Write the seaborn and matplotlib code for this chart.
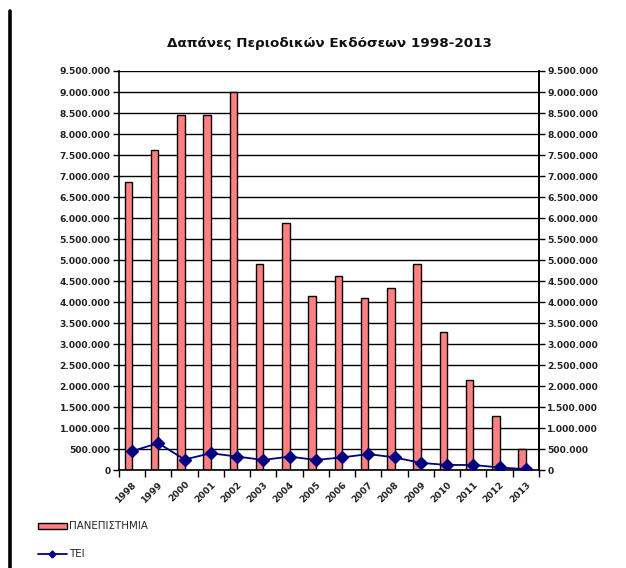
import numpy as np
import pandas as pd
import seaborn as sns
import matplotlib
matplotlib.use("Agg")
import matplotlib.pyplot as plt
from matplotlib.ticker import FuncFormatter, FixedLocator
from matplotlib.lines import Line2D
from matplotlib.patches import Patch

# Journal subscription spending per year (euros)
years = ["1998", "1999", "2000", "2001", "2002", "2003", "2004", "2005",
         "2006", "2007", "2008", "2009", "2010", "2011", "2012", "2013"]
universities = [6860000, 7620000, 8450000, 8450000, 8990000, 4900000,
                5890000, 4140000, 4620000, 4090000, 4330000, 4900000,
                3290000, 2140000, 1290000, 500000]
tei = [450000, 640000, 250000, 400000, 320000, 240000, 320000, 240000,
       300000, 380000, 300000, 170000, 120000, 120000, 60000, 20000]
series_names = ["ΠΑΝΕΠΙΣΤΗΜΙΑ", "ΤΕΙ"]
title = "Δαπάνες Περιοδικών Εκδόσεων 1998-2013"
y_ticks = [0, 500000, 1000000, 1500000, 2000000, 2500000, 3000000,
           3500000, 4000000, 4500000, 5000000, 5500000, 6000000, 6500000,
           7000000, 7500000, 8000000, 8500000, 9000000, 9500000]

bar_color = "#FF8080"
line_color = "#000080"

sns.set_theme(style="white")
plt.rcParams["font.family"] = ["DejaVu Sans"]

fig = plt.figure(figsize=(6.26, 5.68), dpi=100)
ax = fig.add_axes([0.190, 0.1725, 0.671, 0.7025])

bars = pd.DataFrame({"year": years, "value": universities,
                     "series": series_names[0]})
sns.barplot(data=bars, x="year", y="value", hue="series",
            hue_order=series_names, palette=[bar_color, line_color],
            dodge=True, width=0.57, edgecolor="black", linewidth=1.0,
            saturation=1, legend=False, ax=ax, zorder=2)

sns.pointplot(x=years, y=tei, color=line_color, markers="D",
              markersize=6, linewidth=1.3, errorbar=None, ax=ax, zorder=3)

ax.set_xlim(-0.5, len(years) - 0.5)
ax.set_ylim(y_ticks[0], y_ticks[-1])
ax.set_xlabel("")
ax.set_ylabel("")

fmt = FuncFormatter(lambda v, _: f"{int(round(v)):,}".replace(",", "."))
tick_font = dict(fontsize=6.6, fontweight="bold", color="#222222")

ax.yaxis.set_major_locator(FixedLocator(y_ticks))
ax.yaxis.set_major_formatter(fmt)
ax.grid(axis="y", color="black", linewidth=1.0, zorder=0)
ax.set_axisbelow(True)
ax.tick_params(axis="y", which="major", left=True, direction="out",
               length=4, width=1.0, color="black", pad=2)
for lbl in ax.get_yticklabels():
    lbl.set(**tick_font)

# category labels at centres, tick marks on the boundaries
ax.set_xticks(range(len(years)))
ax.set_xticklabels(years, rotation=45, ha="right", rotation_mode="anchor",
                   **tick_font)
ax.tick_params(axis="x", which="major", length=0, pad=7)
ax.set_xticks(np.arange(-0.5, len(years)), minor=True)
ax.tick_params(axis="x", which="minor", bottom=True, direction="out",
               length=5, width=1.0, color="black")

for side in ["left", "right", "bottom"]:
    ax.spines[side].set_visible(True)
    ax.spines[side].set_color("black")
    ax.spines[side].set_linewidth(1.2)
ax.spines["top"].set_visible(False)

ax2 = ax.twinx()
ax2.set_ylim(ax.get_ylim())
ax2.yaxis.set_major_locator(FixedLocator(y_ticks))
ax2.yaxis.set_major_formatter(fmt)
ax2.tick_params(axis="y", right=True, direction="out", length=4,
                width=1.0, color="black", pad=2)
for lbl in ax2.get_yticklabels():
    lbl.set(**tick_font)
ax2.grid(False)
for side in ["left", "top", "bottom"]:
    ax2.spines[side].set_visible(False)
ax2.spines["right"].set_color("black")
ax2.spines["right"].set_linewidth(1.2)

fig.text(0.5255, 0.924, title, ha="center", va="center", fontsize=9.7,
         fontweight="bold", color="#111111")

# page margin rule on the left
fig.add_artist(Line2D([0.016, 0.016], [0.0, 0.981], color="black",
                      linewidth=2.6, transform=fig.transFigure))

handles = [
    Patch(facecolor=bar_color, edgecolor="black", linewidth=1.0,
          label=series_names[0]),
    Line2D([], [], color=line_color, marker="D", markersize=3.5,
           linewidth=1.3, label=series_names[1]),
]
fig.legend(handles=handles, loc="upper left",
           bbox_to_anchor=(0.060, 0.082), frameon=False, fontsize=7.4,
           handlelength=2.9, handleheight=0.6, handletextpad=0.15,
           labelspacing=1.75, borderpad=0, borderaxespad=0)

fig.savefig("out.png", dpi=100)
